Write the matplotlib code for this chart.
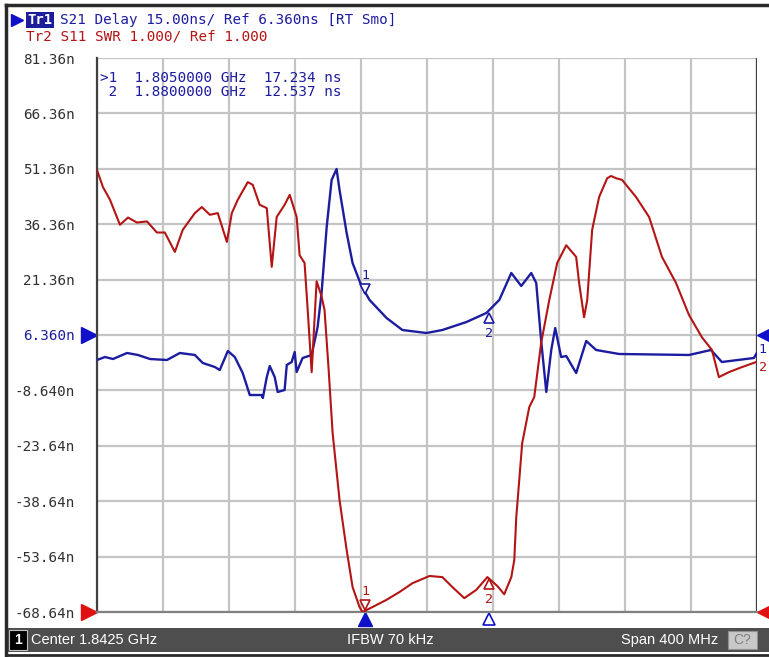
import numpy as np
import matplotlib
matplotlib.use("Agg")
import matplotlib.pyplot as plt
from matplotlib.patches import Rectangle
from matplotlib.transforms import offset_copy, blended_transform_factory

# ── 数据（频率 MHz） ──────────────────────────────────────
# Tr1: S21 群时延 (ns)
delay_f = [1642.5, 1647.3, 1652.2, 1660.7, 1667.3, 1674.6, 1684.9, 1692.7, 1701.8,
           1706.6, 1713.9, 1716.9, 1721.8, 1726.0, 1730.8, 1735.1, 1742.3, 1743.0,
           1745.4, 1747.2, 1750.2, 1752.0, 1756.2, 1757.5, 1760.5, 1762.3, 1763.5,
           1767.1, 1772.6, 1776.2, 1778.6, 1781.7, 1784.7, 1787.7, 1789.5, 1793.8,
           1797.4, 1802.8, 1807.7, 1818.0, 1827.6, 1842.2, 1851.8, 1866.4, 1878.5,
           1886.3, 1893.6, 1899.6, 1905.7, 1908.7, 1911.7, 1914.8, 1917.8, 1920.2,
           1923.8, 1926.9, 1932.9, 1939.0, 1945.0, 1958.9, 2001.3, 2014.6, 2021.2,
           2040.6, 2042.4]
delay_ns = [-0.41, 0.40, -0.14, 1.49, 0.95, -0.14, -0.41, 1.49, 0.95,
            -1.22, -2.30, -3.12, 2.03, 0.40, -3.93, -9.89, -9.89, -10.70,
            -5.02, -2.04, -5.02, -9.07, -8.53, -1.76, -0.95, 1.76, -3.66,
            0.13, 0.95, 8.53, 17.73, 35.60, 48.33, 51.31, 45.62, 33.98,
            25.85, 19.60, 15.84, 10.96, 7.71, 6.90, 7.71, 9.88, 12.32,
            15.84, 23.15, 19.63, 23.15, 20.44, 4.74, -9.07, 2.30, 8.25,
            0.40, 0.67, -3.93, 4.74, 2.30, 1.22, 0.95, 2.30, -0.95,
            0.13, 1.49]

# Tr2: S11 驻波比
swr_f = [1642.5, 1646.1, 1650.4, 1656.4, 1661.3, 1666.7, 1672.8, 1678.8, 1683.6,
         1689.7, 1694.5, 1701.8, 1706.0, 1710.9, 1715.7, 1721.2, 1724.2, 1727.8,
         1733.9, 1736.9, 1741.1, 1745.4, 1748.4, 1751.4, 1756.2, 1759.3, 1763.5,
         1765.3, 1768.3, 1770.2, 1772.6, 1775.6, 1778.6, 1780.4, 1782.9, 1785.3,
         1789.5, 1793.8, 1797.4, 1801.6, 1803.4, 1809.5, 1818.0, 1825.8, 1833.7,
         1844.0, 1851.8, 1857.9, 1865.1, 1872.4, 1879.1, 1885.1, 1889.3, 1893.6,
         1895.4, 1896.6, 1900.2, 1904.5, 1907.5, 1911.7, 1916.6, 1921.4, 1926.9,
         1932.9, 1934.7, 1937.7, 1939.6, 1942.6, 1946.8, 1951.7, 1954.1, 1957.1,
         1960.7, 1969.2, 1977.1, 1984.9, 1993.4, 2001.3, 2009.1, 2015.2, 2019.4,
         2025.5, 2033.3, 2041.8]
swr = [8.98, 8.67, 8.44, 7.99, 8.12, 8.03, 8.05, 7.85, 7.85,
       7.50, 7.90, 8.20, 8.31, 8.17, 8.20, 7.68, 8.20, 8.44,
       8.76, 8.71, 8.35, 8.29, 7.23, 8.13, 8.35, 8.53, 8.13,
       7.44, 7.30, 6.45, 5.33, 6.97, 6.70, 6.45, 5.37, 4.23,
       3.02, 2.12, 1.45, 1.09, 1.00, 1.09, 1.22, 1.36, 1.52,
       1.65, 1.63, 1.45, 1.25, 1.40, 1.63, 1.47, 1.32, 1.63,
       1.94, 2.71, 4.05, 4.70, 4.88, 5.86, 6.63, 7.30, 7.62,
       7.41, 6.94, 6.32, 6.63, 7.90, 8.49, 8.83, 8.87, 8.83,
       8.80, 8.49, 8.13, 7.41, 6.94, 6.36, 5.96, 5.73, 5.24,
       5.33, 5.42, 5.51]

y_ticks = [81.36, 66.36, 51.36, 36.36, 21.36, 6.36, -8.64, -23.64, -38.64, -53.64, -68.64]
y_labels = ["81.36n", "66.36n", "51.36n", "36.36n", "21.36n", "6.360n",
            "-8.640n", "-23.64n", "-38.64n", "-53.64n", "-68.64n"]
marker_f = [1805.0, 1880.0]
marker_ns = [17.234, 12.537]

BLUE = "#1c1ca0"
RED = "#b41414"
W, H = 769, 657
MONO = "DejaVu Sans Mono"


def fx(x):
    return x / W


def fy(y):
    return 1 - y / H


fig = plt.figure(figsize=(W / 100, H / 100), dpi=100)
fig.patch.set_facecolor("white")

# ── 主图区 ──
ax = fig.add_axes([fx(97), fy(612), (757 - 97) / W, (612 - 58) / H])
ax.set_xlim(1642.5, 2042.5)
ax.set_ylim(-68.64, 81.36)
ax.set_xticks(np.arange(1642.5, 2042.6, 40))
ax.set_xticklabels([])
ax.set_yticks(y_ticks)
ax.set_yticklabels(y_labels, family=MONO, fontsize=10.3, color="#303030")
ax.get_yticklabels()[5].set_color(BLUE)
ax.tick_params(length=0, pad=16)
ax.grid(True, color="#c4c4c4", lw=1.6)
ax.set_axisbelow(True)
for s in ["top", "right"]:
    ax.spines[s].set_visible(False)
ax.spines["left"].set_color("#404040")
ax.spines["left"].set_linewidth(1.6)
ax.spines["bottom"].set_color("#808080")
ax.spines["bottom"].set_linewidth(1.6)
ax.axvline(2042.5, color="#404040", lw=1.6)

ax2 = ax.twinx()
ax2.set_ylim(1, 11)
ax2.set_yticks([])
ax2.axis("off")

ax2.plot(swr_f, swr, color=RED, lw=1.5, zorder=3)
ax.plot(delay_f, delay_ns, color=BLUE, lw=1.7, zorder=4)

# ── 标记 ──
m1_red = np.interp(marker_f[0], swr_f, swr)
m2_red = np.interp(marker_f[1], swr_f, swr)
for a, xv, yv, col, num, up in [
        (ax, marker_f[0], marker_ns[0], BLUE, "1", False),
        (ax, marker_f[1], marker_ns[1], BLUE, "2", True),
        (ax2, marker_f[0], m1_red, RED, "1", False),
        (ax2, marker_f[1], m2_red, RED, "2", True)]:
    if up:
        tr = offset_copy(a.transData, fig=fig, x=0, y=-4, units="points")
        a.plot(xv, yv, marker="^", ms=7, mfc="white", mec=col, mew=1.2, transform=tr, zorder=6)
        a.text(xv, yv, num, transform=offset_copy(a.transData, fig=fig, y=-15, units="points"),
               ha="center", va="center", color=col, fontsize=9.5, family=MONO, zorder=6)
    else:
        tr = offset_copy(a.transData, fig=fig, x=0, y=4, units="points")
        a.plot(xv, yv, marker="v", ms=7, mfc="white", mec=col, mew=1.2, transform=tr, zorder=6)
        a.text(xv, yv, num, transform=offset_copy(a.transData, fig=fig, y=14, units="points"),
               ha="center", va="center", color=col, fontsize=9.5, family=MONO, zorder=6)

# 标记读数
ax.text(0.004, 0.977, ">1  1.8050000 GHz  17.234 ns\n 2  1.8800000 GHz  12.537 ns",
        transform=ax.transAxes, ha="left", va="top", color=BLUE,
        fontsize=10.3, family=MONO, linespacing=1.05)

# 频率轴下方的标记三角
bt = blended_transform_factory(ax.transData, ax.transAxes)
ax.plot(marker_f[0], -0.013, marker="^", ms=10, color="#1010c8", transform=bt, clip_on=False)
ax.plot(marker_f[1], -0.013, marker="^", ms=9, mfc="white", mec="#1010c8", mew=1.2,
        transform=bt, clip_on=False)

# 参考位置三角
lt = blended_transform_factory(ax.transAxes, ax.transData)
ax.plot(-0.012, 6.36, marker=">", ms=11, color="#1010c8", transform=lt, clip_on=False)
ax.plot(-0.012, -68.64, marker=">", ms=11, color="#e01010", transform=lt, clip_on=False)
ax.plot(1.012, 6.36, marker="<", ms=11, color="#1010c8", transform=lt, clip_on=False)
ax.plot(1.012, -68.64, marker="<", ms=11, color="#e01010", transform=lt, clip_on=False)
ax.text(1.002, delay_ns[-1] + 1.0, "1", transform=lt, color=BLUE, fontsize=9.5,
        family=MONO, ha="left", va="center", clip_on=False, zorder=8)
ax2.text(1.003, swr[-1] - 0.1, "2", transform=blended_transform_factory(ax.transAxes, ax2.transData),
         color=RED, fontsize=9.5, family=MONO, ha="left", va="center", clip_on=False, zorder=8)

# ── 标题行 ──
fig.lines.append(plt.Line2D([fx(17)], [fy(20)], marker=">", ms=8, color="#1010c8",
                            transform=fig.transFigure, figure=fig))
fig.text(fx(27), fy(20), "Tr1", color="white", fontsize=10, family=MONO,
         va="center", ha="left", weight="bold", zorder=5,
         bbox=dict(facecolor="#1c1c9c", edgecolor="none", pad=1.0))
fig.text(fx(60), fy(20), "S21 Delay 15.00ns/ Ref 6.360ns [RT Smo]", color=BLUE,
         fontsize=10.3, family=MONO, va="center", ha="left")
fig.text(fx(26), fy(36), "Tr2 S11 SWR 1.000/ Ref 1.000", color=RED,
         fontsize=10.3, family=MONO, va="center", ha="left")

# ── 外框（上、左） ──
fig.lines.append(plt.Line2D([fx(6), fx(769)], [fy(5), fy(5)], color="#2a2a2a", lw=2.5,
                            transform=fig.transFigure, figure=fig))
fig.lines.append(plt.Line2D([fx(6), fx(6)], [fy(5), fy(655)], color="#2a2a2a", lw=2.5,
                            transform=fig.transFigure, figure=fig))

# ── 状态栏 ──
fig.patches.append(Rectangle((fx(7), fy(652)), 762 / W, 24 / H, transform=fig.transFigure,
                             facecolor="#4e4e4e", edgecolor="none"))
fig.lines.append(plt.Line2D([fx(6), fx(769)], [fy(655), fy(655)], color="#2a2a2a", lw=2,
                            transform=fig.transFigure, figure=fig))
fig.patches.append(Rectangle((fx(9), fy(650)), 18 / W, 20 / H, transform=fig.transFigure,
                             facecolor="black", edgecolor="#c0c0c0", lw=0.8))
fig.text(fx(18), fy(640), "1", color="white", fontsize=10, weight="bold",
         ha="center", va="center", family="Liberation Sans")
fig.text(fx(31), fy(640), "Center 1.8425 GHz", color="white", fontsize=10.5,
         ha="left", va="center", family="Liberation Sans")
fig.text(fx(347), fy(640), "IFBW 70 kHz", color="white", fontsize=10.5,
         ha="left", va="center", family="Liberation Sans")
fig.text(fx(718), fy(640), "Span 400 MHz", color="white", fontsize=10.5,
         ha="right", va="center", family="Liberation Sans")
fig.patches.append(Rectangle((fx(728), fy(649)), 29 / W, 18 / H, transform=fig.transFigure,
                             facecolor="#c8c8c8", edgecolor="#909090", lw=0.8))
fig.text(fx(742), fy(640), "C?", color="#808080", fontsize=10, ha="center",
         va="center", family="Liberation Sans")

fig.savefig("out.png", dpi=100)
